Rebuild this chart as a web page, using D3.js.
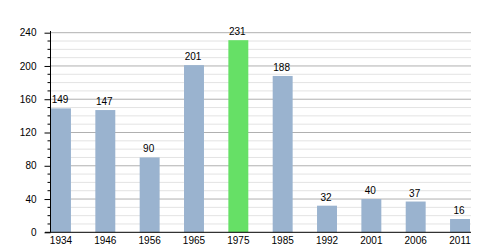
<!DOCTYPE html>
<html>
<head>
<meta charset="utf-8">
<script src="https://cdn.jsdelivr.net/npm/d3@7"></script>
<style>
  body { margin: 0; background: #fff; }
  text { font-family: "Liberation Sans", Arial, sans-serif; font-size: 10px; fill: #000; }
</style>
</head>
<body>
<div id="chart"></div>
<script>
// data
const years = ['1934', '1946', '1956', '1965', '1975', '1985', '1992', '2001', '2006', '2011'];
const population = [149, 147, 90, 201, 231, 188, 32, 40, 37, 16];
const highlight = ['1975'];
const yTicks = [0, 40, 80, 120, 160, 200, 240];

const width = 500;
const height = 250;
const plotLeft = 51, plotRight = 471, plotTop = 32.7, plotBottom = 232.3;

const svg = d3.select('#chart')
  .append('svg')
  .attr('width', width)
  .attr('height', height);

const x = d3.scaleBand()
  .domain(years)
  .range([plotLeft, plotRight - 1])
  .paddingInner(0.55)
  .paddingOuter(0);

const y = d3.scaleLinear()
  .domain([0, 240])
  .range([plotBottom, plotTop]);

// minor grid every 10
const minor = d3.range(10, 240, 10).filter(v => v % 40 !== 0);
svg.append('g')
  .selectAll('line')
  .data(minor)
  .enter().append('line')
  .attr('x1', plotLeft).attr('x2', plotRight)
  .attr('y1', d => y(d)).attr('y2', d => y(d))
  .attr('stroke', '#e3e3e3')
  .attr('stroke-width', 1);

// major grid
svg.append('g')
  .selectAll('line')
  .data(yTicks.slice(1))
  .enter().append('line')
  .attr('x1', plotLeft).attr('x2', plotRight)
  .attr('y1', d => y(d)).attr('y2', d => y(d))
  .attr('stroke', '#b0b0b0')
  .attr('stroke-width', 1);

// bars
svg.append('g')
  .selectAll('rect')
  .data(population)
  .enter().append('rect')
  .attr('x', (d, i) => x(years[i]))
  .attr('y', d => y(d))
  .attr('width', x.bandwidth())
  .attr('height', d => plotBottom - y(d))
  .attr('fill', (d, i) => highlight.includes(years[i]) ? '#66e066' : '#9ab3cf');

// value labels
svg.append('g')
  .selectAll('text')
  .data(population)
  .enter().append('text')
  .attr('x', (d, i) => x(years[i]) + x.bandwidth() / 2 - 1)
  .attr('y', d => y(d) - 5)
  .attr('text-anchor', 'middle')
  .text(d => d);

// y axis
const yAxis = d3.axisLeft(y)
  .tickValues(yTicks)
  .tickSize(6)
  .tickPadding(8);
const gy = svg.append('g')
  .attr('transform', 'translate(' + (plotLeft - 0.5) + ',0)')
  .call(yAxis);
gy.select('.domain').remove();
gy.append('line')
  .attr('x1', 0).attr('x2', 0)
  .attr('y1', 31).attr('y2', plotBottom)
  .attr('stroke', '#000');
gy.selectAll('.tick text').style('font-size', '10px').attr('fill', '#000');

// minor ticks
gy.selectAll('.minor')
  .data(minor)
  .enter().append('line')
  .attr('class', 'minor')
  .attr('x1', -3).attr('x2', 0)
  .attr('y1', d => y(d)).attr('y2', d => y(d))
  .attr('stroke', '#000');

// x axis
const xAxis = d3.axisBottom(x).tickSize(0).tickPadding(5);
const gx = svg.append('g')
  .attr('transform', 'translate(0,' + plotBottom + ')')
  .call(xAxis);
gx.select('.domain').remove();
gx.append('line')
  .attr('x1', 45).attr('x2', plotRight)
  .attr('y1', 0).attr('y2', 0)
  .attr('stroke', '#000');
gx.selectAll('.tick text').style('font-size', '10px').attr('fill', '#000');
</script>
</body>
</html>
